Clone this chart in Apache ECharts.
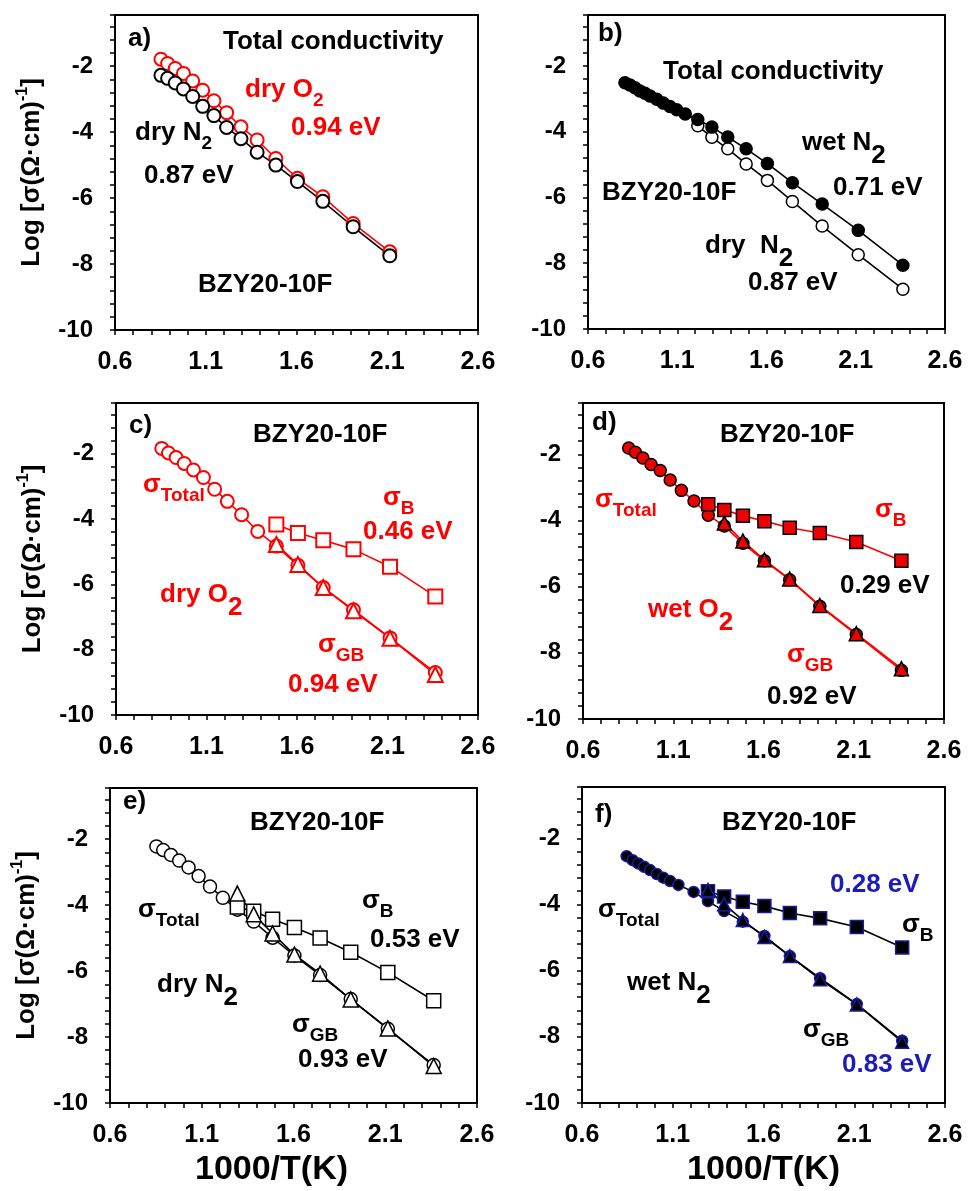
<!DOCTYPE html>
<html><head><meta charset="utf-8">
<script src="https://cdn.jsdelivr.net/npm/echarts@6/dist/echarts.min.js"></script>
<style>html,body{margin:0;padding:0;background:#fff}#c{width:969px;height:1191px}</style>
</head><body><div id="c"></div>
<script>
// ---- data (x = 1000/T(K), y = log sigma) ----
const xAll = [0.853, 0.890, 0.932, 0.977, 1.028, 1.083, 1.145, 1.215, 1.294, 1.383, 1.486, 1.605, 1.745, 1.912, 2.114, 2.364];
const xA = [0.853, 0.890, 0.932, 0.977, 1.028, 1.083, 1.145, 1.215, 1.294, 1.383, 1.486, 1.605, 1.745, 1.912, 2.114];
const aDryO2 = [-1.79, -1.92, -2.07, -2.22, -2.45, -2.73, -3.05, -3.41, -3.84, -4.24, -4.80, -5.40, -5.96, -6.77, -7.63];
const aDryN2 = [-2.28, -2.37, -2.51, -2.69, -2.92, -3.22, -3.50, -3.86, -4.20, -4.61, -5.00, -5.50, -6.10, -6.87, -7.75];

const bWetX = [0.807, 0.835, 0.863, 0.891, 0.919, 0.947, 0.985, 1.022, 1.059, 1.097, 1.145, 1.215, 1.294, 1.383, 1.486, 1.605, 1.745, 1.912, 2.114, 2.364];
const bWetN2 = [-2.51, -2.58, -2.66, -2.76, -2.83, -2.91, -3.01, -3.13, -3.23, -3.33, -3.46, -3.63, -3.86, -4.16, -4.52, -4.97, -5.55, -6.20, -7.00, -8.06];
const bDryX = [1.215, 1.294, 1.383, 1.486, 1.605, 1.745, 1.912, 2.114, 2.364];
const bDryN2 = [-3.82, -4.17, -4.52, -4.98, -5.48, -6.12, -6.87, -7.74, -8.79];

const cTotal = [-1.84, -1.98, -2.12, -2.30, -2.50, -2.73, -3.09, -3.46, -3.87, -4.38, -4.83, -5.42, -6.10, -6.78, -7.64, -8.70];
const xC = [1.486, 1.605, 1.745, 1.912, 2.114, 2.364];
const cBulk = [-4.17, -4.43, -4.65, -4.93, -5.46, -6.37];
const cGB = [-4.78, -5.39, -6.10, -6.81, -7.65, -8.76];

const dTotal = [-1.81, -1.94, -2.11, -2.31, -2.49, -2.78, -3.09, -3.41, -3.84, -4.17, -4.69, -5.22, -5.79, -6.59, -7.45, -8.53];
const xDB = [1.294, 1.383, 1.486, 1.605, 1.745, 1.912, 2.114, 2.364];
const dBulk = [-3.51, -3.68, -3.86, -4.02, -4.22, -4.38, -4.65, -5.22];
const xDGB = [1.383, 1.486, 1.605, 1.745, 1.912, 2.114, 2.364];
const dGB = [-4.08, -4.62, -5.19, -5.77, -6.57, -7.42, -8.48];

const eTotal = [-2.22, -2.33, -2.48, -2.65, -2.86, -3.12, -3.44, -3.78, -4.14, -4.50, -4.99, -5.53, -6.12, -6.85, -7.75, -8.85];
const xE = [1.294, 1.383, 1.486, 1.605, 1.745, 1.912, 2.114, 2.364];
const eBulk = [-4.06, -4.19, -4.43, -4.68, -5.00, -5.43, -6.04, -6.90];
const eGB = [-3.65, -4.28, -4.86, -5.50, -6.08, -6.86, -7.74, -8.88];

const fTotalX = [0.846, 0.879, 0.910, 0.942, 0.975, 1.012, 1.048, 1.085, 1.131, 1.215, 1.294, 1.383, 1.486, 1.605, 1.745, 1.912, 2.114, 2.364];
const fTotal = [-2.54, -2.66, -2.76, -2.86, -2.96, -3.08, -3.19, -3.29, -3.41, -3.62, -3.90, -4.20, -4.52, -4.95, -5.56, -6.23, -7.01, -8.12];
const xF = [1.294, 1.383, 1.486, 1.605, 1.745, 1.912, 2.114, 2.364];
const fBulk = [-3.60, -3.76, -3.92, -4.05, -4.26, -4.42, -4.68, -5.30];
const fGB = [-3.56, -3.99, -4.47, -4.98, -5.56, -6.26, -7.02, -8.15];

const xTickLabels = ['0.6', '1.1', '1.6', '2.1', '2.6'];
const yTickLabels = ['-10', '-8', '-6', '-4', '-2'];

// ---- drawing ----
const FONT = '"Liberation Sans", Arial, sans-serif';
const RED = '#ff0000', BLK = '#000000', BLUE = '#1c1cb8', NAVY = '#1a1aa0';
const chart = echarts.init(document.getElementById('c'), null, {renderer: 'canvas'});

const grids = [
  {left: 115, top: 15, width: 363, height: 315},
  {left: 588, top: 15, width: 357, height: 314},
  {left: 116, top: 403, width: 362, height: 312},
  {left: 583, top: 403, width: 361, height: 316},
  {left: 110, top: 788, width: 367, height: 315},
  {left: 582, top: 787, width: 363, height: 316}
].map(g => Object.assign({show: true, borderColor: '#000', borderWidth: 2, backgroundColor: '#fff'}, g));

const hasYName = [true, false, true, false, true, false];
const hasXName = [false, false, false, false, true, true];
const xNamePad = [0, 0, 0, 0, [0, 44, 0, 0], 0];

const xAxes = grids.map((g, i) => ({
  type: 'value', gridIndex: i, min: 0.6, max: 2.6, interval: 0.1,
  axisLine: {show: true, onZero: false, lineStyle: {color: '#000', width: 2}},
  axisTick: {show: true, length: 5, lineStyle: {color: '#000', width: 1.5}},
  splitLine: {show: false},
  axisLabel: {
    show: true, margin: 20, color: '#000', fontFamily: FONT, fontWeight: 'bold', fontSize: 25,
    formatter: v => { const s = v.toFixed(1); return xTickLabels.includes(s) ? s : ''; }
  },
  name: hasXName[i] ? '1000/T(K)' : '', nameLocation: 'middle', nameGap: 50,
  nameTextStyle: {color: '#000', fontFamily: FONT, fontWeight: 'bold', fontSize: 34, padding: xNamePad[i]}
}));

const yAxes = grids.map((g, i) => ({
  type: 'value', gridIndex: i, min: -10, max: -0.45, interval: 0.4,
  axisLine: {show: true, onZero: false, lineStyle: {color: '#000', width: 2}},
  axisTick: {show: true, length: 5, lineStyle: {color: '#000', width: 1.5}},
  splitLine: {show: false},
  axisLabel: {
    show: true, margin: 22, color: '#000', fontFamily: FONT, fontWeight: 'bold', fontSize: 24,
    formatter: v => { const s = String(Math.round(v)); return (Math.abs(v - Math.round(v)) < 1e-6 && yTickLabels.includes(s)) ? s : ''; }
  },
  name: hasYName[i] ? 'Log [σ(Ω·cm){sup|-1}]' : '', nameLocation: 'middle', nameGap: 66,
  nameTextStyle: {color: '#000', fontFamily: FONT, fontWeight: 'bold', fontSize: 26, lineHeight: 34,
    rich: {sup: {fontFamily: FONT, fontWeight: 'bold', fontSize: 16, lineHeight: 16, verticalAlign: 'top', color: '#000'}}}
}));

function pairs(xs, ys) { return xs.map((x, j) => [x, ys[j]]); }
function S(i, xs, ys, o) {
  return {
    type: 'line', xAxisIndex: i, yAxisIndex: i, data: pairs(xs, ys),
    symbol: o.symbol || 'circle', symbolSize: o.size || 13, showSymbol: true,
    itemStyle: {color: o.fill, borderColor: o.border, borderWidth: o.bw || 2, opacity: 1},
    lineStyle: {color: o.line, width: 1.6}, animation: false, silent: true, z: 3
  };
}

const series = [
  // a
  S(0, xA, aDryO2, {fill: '#fff', border: RED, line: RED, size: 13}),
  S(0, xA, aDryN2, {fill: '#fff', border: BLK, line: BLK, size: 13}),
  // b
  S(1, bDryX, bDryN2, {fill: '#fff', border: BLK, line: BLK, size: 12, bw: 1.5}),
  S(1, bWetX, bWetN2, {fill: BLK, border: BLK, line: BLK, size: 12, bw: 1.5}),
  // c
  S(2, xAll, cTotal, {fill: '#fff', border: RED, line: RED, size: 13}),
  S(2, xC, cBulk, {symbol: 'rect', fill: '#fff', border: RED, line: RED, size: 14}),
  S(2, xC, cGB, {symbol: 'triangle', fill: '#fff', border: RED, line: RED, size: 15}),
  // d
  S(3, xAll, dTotal, {fill: '#ee0000', border: BLK, line: RED, size: 12, bw: 1.5}),
  S(3, xDB, dBulk, {symbol: 'rect', fill: '#ee0000', border: BLK, line: RED, size: 13, bw: 1.5}),
  S(3, xDGB, dGB, {symbol: 'triangle', fill: '#ee0000', border: BLK, line: RED, size: 14, bw: 1.5}),
  // e
  S(4, xAll, eTotal, {fill: '#fff', border: BLK, line: BLK, size: 13, bw: 1.5}),
  S(4, xE, eBulk, {symbol: 'rect', fill: '#fff', border: BLK, line: BLK, size: 14, bw: 1.5}),
  S(4, xE, eGB, {symbol: 'triangle', fill: '#fff', border: BLK, line: BLK, size: 15, bw: 1.5}),
  // f
  S(5, fTotalX, fTotal, {fill: BLK, border: NAVY, line: BLK, size: 11, bw: 1.5}),
  S(5, xF, fBulk, {symbol: 'rect', fill: BLK, border: NAVY, line: BLK, size: 13, bw: 1.5}),
  S(5, xF, fGB, {symbol: 'triangle', fill: BLK, border: NAVY, line: BLK, size: 13, bw: 1.5})
];

// ---- annotations ----
function richStyles(color) {
  const base = {fontFamily: FONT, fontWeight: 'bold', fill: color};
  return {
    m: Object.assign({fontSize: 26, lineHeight: 40}, base),
    M: Object.assign({fontSize: 26, lineHeight: 52}, base),
    s: Object.assign({fontSize: 19, verticalAlign: 'bottom'}, base),
    L: Object.assign({fontSize: 26, verticalAlign: 'bottom'}, base)
  };
}
function T(x, y, text, color) {
  return {type: 'text', x: x, y: y, z: 100, silent: true,
    style: {text: text, fill: color, font: 'bold 26px ' + FONT, textAlign: 'left', textVerticalAlign: 'middle', rich: richStyles(color)}};
}
const sig = (sub) => '{m|σ}{s|' + sub + '}';

const texts = [
  // a
  T(128, 39, '{m|a)}', BLK), T(223, 42, '{m|Total conductivity}', BLK),
  T(245, 90, '{m|dry O}{s|2}', RED), T(291, 128, '{m|0.94 eV}', RED),
  T(135, 133, '{m|dry N}{s|2}', BLK), T(144, 176, '{m|0.87 eV}', BLK),
  T(198, 285, '{m|BZY20-10F}', BLK),
  // b
  T(598, 34, '{m|b)}', BLK), T(663, 72, '{m|Total conductivity}', BLK),
  T(802, 143, '{M|wet N}{L|2}', BLK), T(833, 188, '{m|0.71 eV}', BLK),
  T(602, 193, '{m|BZY20-10F}', BLK), T(705, 246, '{M|dry  N}{L|2}', BLK),
  T(748, 283, '{m|0.87 eV}', BLK),
  // c
  T(129, 426, '{m|c)}', BLK), T(253, 435, '{m|BZY20-10F}', BLK),
  T(143, 485, sig('Total'), RED), T(383, 498, sig('B'), RED),
  T(363, 532, '{m|0.46 eV}', RED), T(160, 595, '{M|dry O}{L|2}', RED),
  T(318, 645, sig('GB'), RED), T(288, 685, '{m|0.94 eV}', RED),
  // d
  T(592, 423, '{m|d)}', BLK), T(720, 435, '{m|BZY20-10F}', BLK),
  T(595, 500, sig('Total'), RED), T(875, 510, sig('B'), RED),
  T(840, 586, '{m|0.29 eV}', BLK), T(648, 610, '{M|wet O}{L|2}', RED),
  T(787, 655, sig('GB'), RED), T(767, 697, '{m|0.92 eV}', BLK),
  // e
  T(123, 802, '{m|e)}', BLK), T(250, 823, '{m|BZY20-10F}', BLK),
  T(138, 910, sig('Total'), BLK), T(362, 901, sig('B'), BLK),
  T(370, 940, '{m|0.53 eV}', BLK), T(157, 985, '{M|dry N}{L|2}', BLK),
  T(292, 1025, sig('GB'), BLK), T(298, 1060, '{m|0.93 eV}', BLK),
  // f
  T(595, 815, '{m|f)}', BLK), T(722, 823, '{m|BZY20-10F}', BLK),
  T(598, 910, sig('Total'), BLK), T(830, 885, '{m|0.28 eV}', BLUE),
  T(902, 925, sig('B'), BLK), T(627, 983, '{M|wet N}{L|2}', BLK),
  T(803, 1030, sig('GB'), BLK), T(842, 1065, '{m|0.83 eV}', BLUE)
];

chart.setOption({
  animation: false,
  backgroundColor: '#fff',
  grid: grids,
  xAxis: xAxes,
  yAxis: yAxes,
  series: series,
  graphic: {elements: texts}
});
</script></body></html>
